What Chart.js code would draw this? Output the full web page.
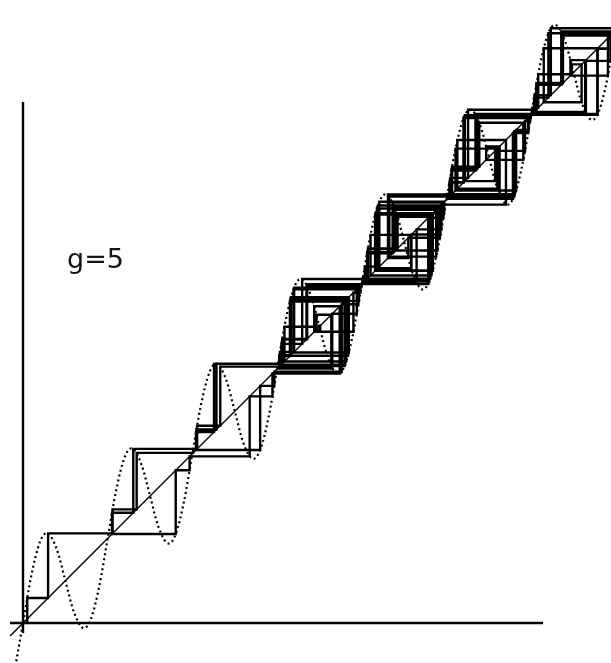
<!DOCTYPE html>
<html>
<head>
<meta charset="utf-8">
<script src="https://cdn.jsdelivr.net/npm/chart.js@4.4.1/dist/chart.umd.min.js"></script>
<style>
  html, body { margin: 0; padding: 0; background: #ffffff; overflow: hidden; }
  #wrap { position: relative; width: 611px; height: 663px; }
</style>
</head>
<body>
<div id="wrap"><canvas id="cobweb" width="611" height="663"></canvas></div>
<script>
// Cobweb diagram of the map x -> x + (g / 2π)·sin(2πx), g = 5.

const gLabel = 'g=5';

// Map curve y = f(x), sampled at peaks, troughs and crossings of each period.
const curveX = [
  -0.1,
  0, 0.1, 0.2, 0.28, 0.4, 0.5, 0.6, 0.72, 0.8, 0.9,
  1, 1.1, 1.2, 1.28, 1.4, 1.5, 1.6, 1.72, 1.8, 1.9,
  2, 2.1, 2.2, 2.28, 2.4, 2.5, 2.6, 2.72, 2.8, 2.9,
  3, 3.1, 3.2, 3.28, 3.4, 3.5, 3.6, 3.72, 3.8, 3.9,
  4, 4.1, 4.2, 4.28, 4.4, 4.5, 4.6, 4.72, 4.8, 4.9,
  5, 5.1, 5.2, 5.28, 5.4, 5.5, 5.6, 5.72, 5.8, 5.9,
  6, 6.1, 6.2, 6.28, 6.4, 6.5, 6.6, 6.72, 6.8, 6.9,
  7
];
const curveY = [
  -0.568,
  0, 0.568, 0.957, 1.062, 0.868, 0.5, 0.132, -0.062, 0.043, 0.432,
  1, 1.568, 1.957, 2.062, 1.868, 1.5, 1.132, 0.938, 1.043, 1.432,
  2, 2.568, 2.957, 3.062, 2.868, 2.5, 2.132, 1.938, 2.043, 2.432,
  3, 3.568, 3.957, 4.062, 3.868, 3.5, 3.132, 2.938, 3.043, 3.432,
  4, 4.568, 4.957, 5.062, 4.868, 4.5, 4.132, 3.938, 4.043, 4.432,
  5, 5.568, 5.957, 6.062, 5.868, 5.5, 5.132, 4.938, 5.043, 5.432,
  6, 6.568, 6.957, 7.062, 6.868, 6.5, 6.132, 5.938, 6.043, 6.432,
  7
];

// Successive iterates x0, x1, x2, ... of the orbit.
const orbit = [
  0.050, 0.296, 1.058, 1.342, 2.008, 2.048, 2.284, 3.061,
  3.355, 3.984, 3.901, 3.438, 3.739, 2.945, 2.676, 1.967, 1.803, 1.051, 1.302, 2.056, 2.329, 3.027,
  3.161, 3.837, 3.156, 3.816, 3.087, 3.498, 3.509, 3.465, 3.640, 3.028, 3.164, 3.847, 3.194, 3.941,
  3.651, 3.004, 3.025, 3.151, 3.796, 3.034, 3.201, 3.960, 3.763, 2.967,
  2.800, 2.043, 2.255, 3.059,
  3.347, 3.999, 3.994, 3.967, 3.803, 3.051, 3.296, 4.062,
  4.364, 4.964, 4.784, 4.002, 4.012, 4.072, 4.419, 4.806, 4.065, 4.381, 4.922, 4.549, 4.309,
  5.059, 5.347, 5.999, 5.993, 5.967, 5.803, 5.060, 5.353, 5.988, 5.927, 5.574, 5.217, 5.995,
  5.968, 5.807, 5.062, 5.361, 5.970, 5.822, 5.107, 5.601, 5.128, 5.702,
  4.940, 4.647, 4.012, 4.072, 4.422, 4.797, 4.035, 4.207, 4.973, 4.838, 4.161, 4.837, 4.157,
  4.821, 4.103, 4.582, 4.190, 4.929, 4.586, 4.178, 4.893, 4.397, 4.878, 4.325,
  5.034, 5.200, 5.966, 5.800, 5.034, 5.203, 5.963, 5.786, 5.011, 5.066, 5.387, 5.907, 5.468,
  5.627, 5.062, 5.364, 5.964, 5.784, 5.007, 5.043, 5.255,
  6.060, 6.355, 6.984, 6.906, 6.463, 6.646, 6.014, 6.083, 6.478, 6.595, 6.148, 6.785, 6.009,
  6.064, 6.375, 6.937, 6.637, 6.034, 6.203, 6.963, 6.780,
  5.999, 5.994, 5.967, 5.803, 5.058, 5.342,
  6.009, 6.062, 6.364, 6.964, 6.784, 6.007, 6.039, 6.232, 7.022
];

// Reference line y = x and the two axes.
const diagonalEnds = [-0.153, 7.1];
const xAxisEnds = [-0.153, 6.139];
const yAxisEnds = [-0.118, 6.151];

// Cobweb path: vertical to the curve, horizontal back to the diagonal.
const cobwebPoints = [{ x: orbit[0], y: 0 }];
for (let i = 0; i + 1 < orbit.length; i++) {
  cobwebPoints.push({ x: orbit[i], y: orbit[i + 1] });
  cobwebPoints.push({ x: orbit[i + 1], y: orbit[i + 1] });
}

const curvePoints = curveX.map((x, i) => ({ x, y: curveY[i] }));

const labelPlugin = {
  id: 'gLabel',
  afterDatasetsDraw(chart) {
    const { ctx, scales } = chart;
    const px = scales.x.getPixelForValue(0.52);
    const py = scales.y.getPixelForValue(4.19);
    ctx.save();
    ctx.font = '27px "DejaVu Sans"';
    ctx.fillStyle = '#151515';
    ctx.textBaseline = 'alphabetic';
    ctx.fillText(gLabel, px, py);
    ctx.restore();
  }
};

const lineBase = { showLine: true, pointRadius: 0, pointHoverRadius: 0, fill: false, borderColor: '#000000' };

new Chart(document.getElementById('cobweb'), {
  type: 'scatter',
  data: {
    datasets: [
      Object.assign({}, lineBase, {
        label: 'x axis',
        data: [{ x: xAxisEnds[0], y: 0 }, { x: xAxisEnds[1], y: 0 }],
        borderWidth: 2.4
      }),
      Object.assign({}, lineBase, {
        label: 'y axis',
        data: [{ x: 0, y: yAxisEnds[0] }, { x: 0, y: yAxisEnds[1] }],
        borderWidth: 2.4
      }),
      Object.assign({}, lineBase, {
        label: 'y = x',
        data: [{ x: diagonalEnds[0], y: diagonalEnds[0] }, { x: diagonalEnds[1], y: diagonalEnds[1] }],
        borderWidth: 1.4
      }),
      Object.assign({}, lineBase, {
        label: 'f(x)',
        data: curvePoints,
        borderWidth: 2.2,
        borderDash: [2, 3],
        cubicInterpolationMode: 'monotone'
      }),
      Object.assign({}, lineBase, {
        label: 'orbit',
        data: cobwebPoints,
        borderWidth: 2.4,
        borderJoinStyle: 'miter',
        tension: 0
      })
    ]
  },
  options: {
    responsive: false,
    animation: false,
    events: [],
    layout: { padding: 0 },
    plugins: { legend: { display: false }, tooltip: { enabled: false }, title: { display: false } },
    scales: {
      x: { type: 'linear', min: -0.2716, max: 6.9421, display: false },
      y: { type: 'linear', min: -0.4723, max: 7.3554, display: false }
    }
  },
  plugins: [labelPlugin]
});
</script>
</body>
</html>
